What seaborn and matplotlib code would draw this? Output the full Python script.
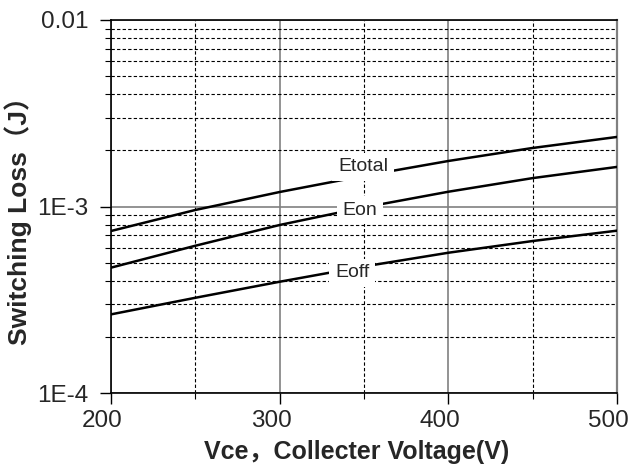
import matplotlib
matplotlib.use("Agg")
import matplotlib.pyplot as plt
import matplotlib.ticker as mticker
import matplotlib.transforms as mtransforms
import numpy as np
import pandas as pd
import seaborn as sns

# Switching loss vs. collector-emitter voltage
vce = [200, 250, 300, 350, 400, 450, 500]
e_total = [7.39e-4, 9.58e-4, 1.196e-3, 1.46e-3, 1.754e-3, 2.06e-3, 2.36e-3]
e_on = [4.70e-4, 6.16e-4, 7.96e-4, 9.9e-4, 1.20e-3, 1.42e-3, 1.63e-3]
e_off = [2.64e-4, 3.24e-4, 3.95e-4, 4.77e-4, 5.65e-4, 6.53e-4, 7.42e-4]
curve_names = ["Etotal", "Eon", "Eoff"]

y_ticks = [1e-4, 1e-3, 1e-2]
y_tick_labels = ["1E-4", "1E-3", "0.01"]
x_ticks = [200, 300, 400, 500]
x_minor_ticks = [250, 350, 450]

# inline curve labels: (name, x, y)
curve_labels = [("Etotal", 349.4, 1.63e-3), ("Eon", 347.6, 9.57e-4), ("Eoff", 342.9, 4.40e-4)]

df = pd.DataFrame({
    "Vce": vce * 3,
    "E": e_total + e_on + e_off,
    "curve": [n for n in curve_names for _ in vce],
})

sns.set_style("white")
plt.rcParams["font.family"] = ["Liberation Sans", "Noto Sans CJK SC"]

fig = plt.figure(figsize=(6.32, 4.68), dpi=100)
ax = fig.add_axes([111 / 632, 1 - 393 / 468, 506 / 632, 373 / 468])

sns.lineplot(data=df, x="Vce", y="E", hue="curve", palette=["black"] * 3,
             legend=False, linewidth=1.8, ax=ax, zorder=3)

ax.set_yscale("log")
ax.set_xlim(200, 500)
ax.set_ylim(1e-4, 1e-2)

ax.yaxis.set_major_locator(mticker.FixedLocator(y_ticks))
ax.yaxis.set_major_formatter(mticker.FixedFormatter(y_tick_labels))
ax.yaxis.set_minor_locator(mticker.LogLocator(base=10, subs=np.arange(2, 10)))
ax.yaxis.set_minor_formatter(mticker.NullFormatter())
ax.xaxis.set_major_locator(mticker.FixedLocator(x_ticks))
ax.xaxis.set_minor_locator(mticker.FixedLocator(x_minor_ticks))

ax.set_axisbelow(True)
ax.grid(which="major", color="#808080", linestyle="-", linewidth=1.2)
ax.grid(which="minor", color="black", linestyle=(0, (3, 2)), linewidth=0.8)

ax.tick_params(which="major", direction="out", length=8, width=1, color="black",
               labelsize=17.5, left=True, bottom=True)
ax.tick_params(which="minor", direction="out", length=4, width=0.8, color="black",
               left=True, bottom=True)
ax.tick_params(axis="x", which="major", pad=4)
ax.tick_params(axis="y", which="major", pad=8)

# x tick labels sit slightly left of their ticks
shift = mtransforms.ScaledTranslation(-8.5 / 100, 0, fig.dpi_scale_trans)
for lbl in ax.get_xticklabels():
    lbl.set_transform(lbl.get_transform() + shift)

for side in ["left", "bottom", "top"]:
    ax.spines[side].set_color("black")
    ax.spines[side].set_linewidth(1.2)
ax.spines["right"].set_color("#808080")
ax.spines["right"].set_linewidth(1.6)

for name, lx, ly in curve_labels:
    ax.text(lx, ly, name, fontsize=14, ha="center", va="center", zorder=5,
            bbox=dict(facecolor="white", edgecolor="none", pad=4))

ax.set_xlabel("Vce，Collecter Voltage(V)", fontsize=18, fontweight="bold", labelpad=6)
ax.xaxis.label.set_x(0.486)
ax.set_ylabel("Switching Loss（J）", fontsize=19, fontweight="bold", labelpad=4)
ax.yaxis.label.set_y(0.48)

fig.savefig("out.png", dpi=100)
